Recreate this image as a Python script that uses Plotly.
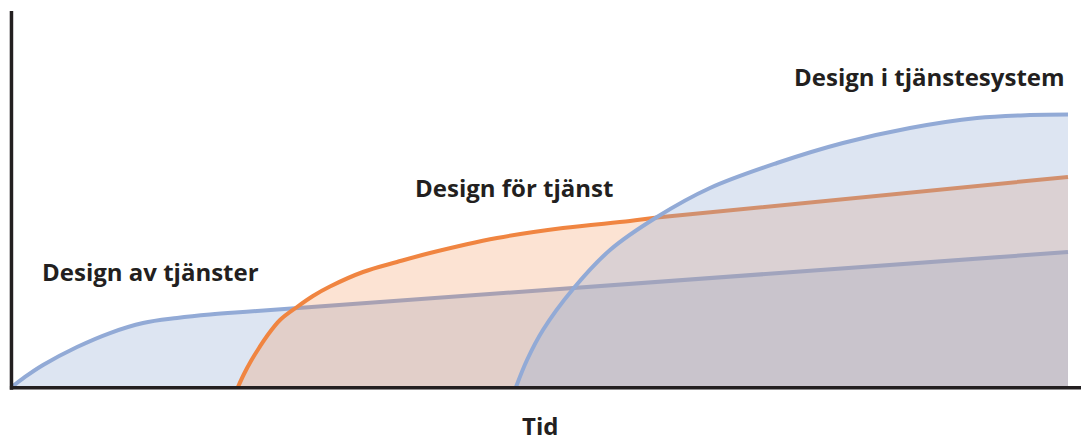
import plotly.graph_objects as go

# Time (x) and level (y) in arbitrary units
av_x = [0, 1.23, 2.94, 6.16, 9.28, 12.41, 15.63, 18.75, 23.2, 100]
av_y = [0, 3.68, 8.09, 14.71, 19.85, 23.53, 25.37, 26.65, 27.94, 49.63]

for_x = [21.40, 21.97, 22.63, 23.39, 24.15, 25.38, 26.99, 28.50, 30.11, 33.24,
         36.46, 39.58, 45.93, 52.18, 58.52, 61.08, 100]
for_y = [0, 4.78, 9.56, 14.34, 18.75, 24.63, 29.41, 33.46, 36.95, 42.28,
         45.96, 49.26, 54.78, 58.46, 61.03, 62.32, 77.21]

sys_x = [47.73, 48.77, 50.28, 53.13, 56.63, 61.08, 66.10, 72.44, 78.69, 85.04, 91.38, 96.4, 100]
sys_y = [0, 9.93, 20.96, 36.03, 50.37, 62.5, 73.16, 82.35, 89.71, 95.22, 98.90, 100, 100.2]

labels = ["Design av tjänster", "Design för tjänst", "Design i tjänstesystem"]
label_x = [13.07, 47.54, 86.88]
label_y = [42.3, 73.5, 114.3]
axis_title = "Tid"

BLUE = "rgb(146,170,214)"
BLUE_FILL = "rgba(146,170,214,0.31)"
ORANGE = "rgb(240,133,65)"
ORANGE_FILL = "rgba(240,133,65,0.23)"
DARK = "#231f20"
FONT = "Open Sans"

fig = go.Figure()
series = [
    (av_x, av_y, BLUE, BLUE_FILL),
    (for_x, for_y, ORANGE, ORANGE_FILL),
    (sys_x, sys_y, BLUE, BLUE_FILL),
]
for xs, ys, lc, fc in series:
    fig.add_trace(go.Scatter(
        x=xs, y=ys, mode="lines", fill="tozeroy", fillcolor=fc,
        line=dict(color=lc, width=4, shape="spline", smoothing=1.0),
        hoverinfo="skip", showlegend=False,
    ))

for t, x, y in zip(labels, label_x, label_y):
    fig.add_annotation(x=x, y=y, text=t, showarrow=False,
                       font=dict(family=FONT, size=24, color=DARK, weight="bold"))
fig.add_annotation(x=50, y=-14.0, text=axis_title, showarrow=False,
                   font=dict(family=FONT, size=24, color=DARK, weight="bold"))

# axes drawn as lines
fig.add_shape(type="line", x0=-0.05, x1=-0.05, y0=-1.0, y1=138.2,
              line=dict(color=DARK, width=3.5))
fig.add_shape(type="line", x0=-0.2, x1=102.6, y0=-0.3, y1=-0.3,
              line=dict(color=DARK, width=3.5))
fig.add_shape(type="line", x0=101.4, x1=102.9, y0=5.2, y1=-0.3,
              line=dict(color=DARK, width=3))
fig.add_shape(type="line", x0=101.4, x1=102.9, y0=-5.8, y1=-0.3,
              line=dict(color=DARK, width=3))

# the page body adds an 8px margin; the figure is shifted to compensate
fig.update_layout(
    width=1081, height=439,
    margin=dict(l=0, r=0, t=0, b=0),
    paper_bgcolor="white", plot_bgcolor="white",
    xaxis=dict(range=[-0.379, 101.99], visible=False, fixedrange=True),
    yaxis=dict(range=[-22.06, 139.34], visible=False, fixedrange=True),
)

fig.write_html("out.html")
